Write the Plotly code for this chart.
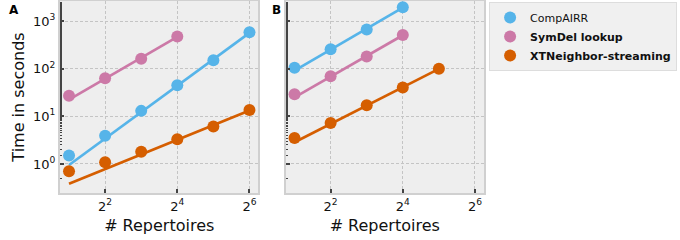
import numpy as np
import plotly.graph_objects as go
from plotly.subplots import make_subplots

# ---- data ----
repertoires_a = [2, 4, 8, 16, 32, 64]
compairr_a = [1.5, 3.9, 13, 45, 150, 580]
symdel_a = [27, 63, 162, 475]
xtn_a = [0.7, 1.08, 1.8, 3.3, 6.1, 13.6]

repertoires_b = [2, 4, 8, 16, 32]
compairr_b = [105, 256, 660, 1950]
symdel_b = [29, 69, 180, 510]
xtn_b = [3.5, 7.2, 17, 40, 100]

series_names = ["CompAIRR", "SymDel lookup", "XTNeighbor-streaming"]
legend_labels = ["CompAIRR", "<b>SymDel lookup</b>", "<b>XTNeighbor-streaming</b>"]
colors = ["#56B4E9", "#CC79A7", "#D55E00"]

x_tickvals = [4, 16, 64]
x_ticktext = ["2<sup>2</sup>", "2<sup>4</sup>", "2<sup>6</sup>"]
y_tickvals = [1, 10, 100, 1000]
y_ticktext = ["10<sup>0</sup>", "10<sup>1</sup>", "10<sup>2</sup>", "10<sup>3</sup>"]
panel_labels = ["A", "B"]
x_title = "# Repertoires"
y_title = "Time in seconds"

FIT_POINTS = 3


def fit_line(xs, ys):
    lx = np.log2(np.array(xs[-FIT_POINTS:], dtype=float))
    ly = np.log10(np.array(ys[-FIT_POINTS:], dtype=float))
    slope, icpt = np.polyfit(lx, ly, 1)
    xe = np.array([xs[0], xs[-1]], dtype=float)
    return xe, 10 ** (slope * np.log2(xe) + icpt)


fig = make_subplots(rows=1, cols=2, shared_yaxes=True, horizontal_spacing=0.0637)

panels = [
    (1, [compairr_a, symdel_a, xtn_a], repertoires_a),
    (2, [compairr_b, symdel_b, xtn_b], repertoires_b),
]
for col, ser, reps in panels:
    for i, ys in enumerate(ser):
        xs = reps[: len(ys)]
        fx, fy = fit_line(xs, ys)
        fig.add_trace(go.Scatter(x=fx, y=fy, mode="lines",
                                 line=dict(color=colors[i], width=2.7),
                                 showlegend=False, hoverinfo="skip"), row=1, col=col)
        fig.add_trace(go.Scatter(x=xs, y=ys, mode="markers", name=legend_labels[i],
                                 marker=dict(color=colors[i], size=12),
                                 showlegend=(col == 1), legendgroup=series_names[i]),
                      row=1, col=col)

grid_col = "#c4c4c4"
xrange_log = [np.log10(2 ** 0.75), np.log10(2 ** 6.25)]
for col in (1, 2):
    fig.update_xaxes(type="log", range=xrange_log, tickvals=x_tickvals, ticktext=x_ticktext,
                     ticks="inside", ticklen=4, tickwidth=1.5, tickcolor="#444",
                     showgrid=True, gridcolor=grid_col, griddash="3px,2px", gridwidth=1,
                     showline=True, linecolor="#d0d0d0", linewidth=2, mirror=True,
                     zeroline=False, automargin=False,
                     tickfont=dict(family="DejaVu Sans", size=13, color="#111"),
                     title=dict(text=x_title, font=dict(family="DejaVu Sans", size=16, color="#111"),
                                standoff=7),
                     row=1, col=col)
    fig.update_yaxes(type="log", range=[-0.61, 3.42], tickvals=y_tickvals,
                     ticktext=y_ticktext if col == 1 else None,
                     showticklabels=(col == 1),
                     ticks="inside", ticklen=4, tickwidth=1.5, tickcolor="#444",
                     minor=dict(ticks="inside", ticklen=2, tickcolor="#444", tickwidth=1, showgrid=False),
                     showgrid=True, gridcolor=grid_col, griddash="3px,2px", gridwidth=1,
                     showline=True, linecolor="#d0d0d0", linewidth=2, mirror=True,
                     zeroline=False, automargin=False,
                     tickfont=dict(family="DejaVu Sans", size=13, color="#111"),
                     row=1, col=col)
fig.update_yaxes(title=dict(text=y_title, font=dict(family="DejaVu Sans", size=16, color="#111"),
                            standoff=4), row=1, col=1)

fig.add_annotation(text="<b>" + panel_labels[0] + "</b>", xref="paper", yref="paper",
                   x=-0.125, y=1.0, xanchor="left", yanchor="top", showarrow=False,
                   font=dict(family="DejaVu Sans", size=12, color="black"))
fig.add_annotation(text="<b>" + panel_labels[1] + "</b>", xref="paper", yref="paper",
                   x=0.527, y=1.0, xanchor="right", yanchor="top", showarrow=False,
                   font=dict(family="DejaVu Sans", size=12, color="black"))

fig.update_layout(
    width=680, height=240,
    margin=dict(l=60, r=196, t=1, b=47, autoexpand=False),
    paper_bgcolor="white", plot_bgcolor="#eeeeee",
    legend=dict(x=1.012, y=0.995, xanchor="left", yanchor="top",
                bgcolor="#f0f0f0", bordercolor="#dddddd", borderwidth=1,
                font=dict(family="DejaVu Sans", size=11, color="#111"),
                itemwidth=30, tracegroupgap=0),
    font=dict(family="DejaVu Sans"),
)

fig.write_html("out.html", config={"displayModeBar": False},
               post_script="document.body.style.margin='0';document.body.style.overflow='hidden';")
